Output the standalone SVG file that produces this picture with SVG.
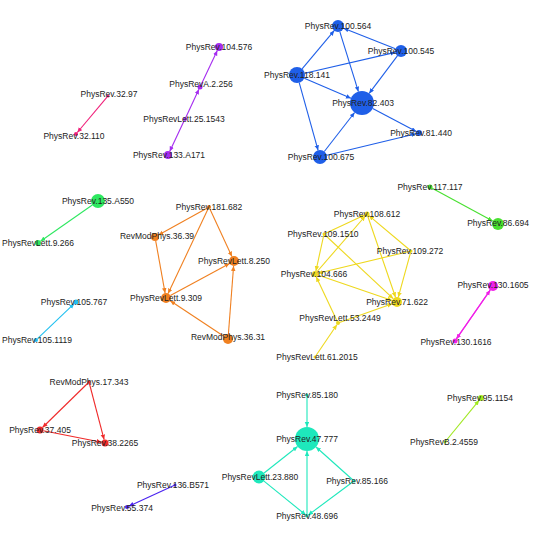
<svg xmlns="http://www.w3.org/2000/svg" width="538" height="538" viewBox="0 0 538 538">
<defs>
<style>
.e{fill:none;stroke-width:1.1}
text{font-family:"Liberation Sans",Arial,sans-serif;font-size:8.5px;fill:#222;text-anchor:middle;dominant-baseline:central}
.bl{stroke:#1f5fe8}.bln{fill:#1f5fe8}
.pu{stroke:#a52cf0}.pun{fill:#a52cf0}
.pk{stroke:#f0207a}.pkn{fill:#f0207a}
.gl{stroke:#2ee860}.gln{fill:#2ee860}
.cy{stroke:#20c0f0}.cyn{fill:#20c0f0}
.or{stroke:#f08020}.orn{fill:#f08020}
.ye{stroke:#eed81e}.yen{fill:#eed81e}
.gr{stroke:#48e030}.grn{fill:#48e030}
.mg{stroke:#f020e8}.mgn{fill:#f020e8}
.rd{stroke:#f02a2a}.rdn{fill:#f02a2a}
.bv{stroke:#4a22f0}.bvn{fill:#4a22f0}
.te{stroke:#1ee8bc}.ten{fill:#1ee8bc}
.li{stroke:#a0e820}.lin{fill:#a0e820}
</style>
<marker id="mbl" markerUnits="userSpaceOnUse" markerWidth="6" markerHeight="5" refX="5" refY="2.25" orient="auto"><path d="M0,0 L5,2.25 L0,4.5z" fill="#1f5fe8"/></marker>
<marker id="mpu" markerUnits="userSpaceOnUse" markerWidth="6" markerHeight="5" refX="5" refY="2.25" orient="auto"><path d="M0,0 L5,2.25 L0,4.5z" fill="#a52cf0"/></marker>
<marker id="mpk" markerUnits="userSpaceOnUse" markerWidth="6" markerHeight="5" refX="5" refY="2.25" orient="auto"><path d="M0,0 L5,2.25 L0,4.5z" fill="#f0207a"/></marker>
<marker id="mgl" markerUnits="userSpaceOnUse" markerWidth="6" markerHeight="5" refX="5" refY="2.25" orient="auto"><path d="M0,0 L5,2.25 L0,4.5z" fill="#2ee860"/></marker>
<marker id="mcy" markerUnits="userSpaceOnUse" markerWidth="6" markerHeight="5" refX="5" refY="2.25" orient="auto"><path d="M0,0 L5,2.25 L0,4.5z" fill="#20c0f0"/></marker>
<marker id="mor" markerUnits="userSpaceOnUse" markerWidth="6" markerHeight="5" refX="5" refY="2.25" orient="auto"><path d="M0,0 L5,2.25 L0,4.5z" fill="#f08020"/></marker>
<marker id="mye" markerUnits="userSpaceOnUse" markerWidth="6" markerHeight="5" refX="5" refY="2.25" orient="auto"><path d="M0,0 L5,2.25 L0,4.5z" fill="#eed81e"/></marker>
<marker id="mgr" markerUnits="userSpaceOnUse" markerWidth="6" markerHeight="5" refX="5" refY="2.25" orient="auto"><path d="M0,0 L5,2.25 L0,4.5z" fill="#48e030"/></marker>
<marker id="mmg" markerUnits="userSpaceOnUse" markerWidth="6" markerHeight="5" refX="5" refY="2.25" orient="auto"><path d="M0,0 L5,2.25 L0,4.5z" fill="#f020e8"/></marker>
<marker id="mrd" markerUnits="userSpaceOnUse" markerWidth="6" markerHeight="5" refX="5" refY="2.25" orient="auto"><path d="M0,0 L5,2.25 L0,4.5z" fill="#f02a2a"/></marker>
<marker id="mbv" markerUnits="userSpaceOnUse" markerWidth="6" markerHeight="5" refX="5" refY="2.25" orient="auto"><path d="M0,0 L5,2.25 L0,4.5z" fill="#4a22f0"/></marker>
<marker id="mte" markerUnits="userSpaceOnUse" markerWidth="6" markerHeight="5" refX="5" refY="2.25" orient="auto"><path d="M0,0 L5,2.25 L0,4.5z" fill="#1ee8bc"/></marker>
<marker id="mli" markerUnits="userSpaceOnUse" markerWidth="6" markerHeight="5" refX="5" refY="2.25" orient="auto"><path d="M0,0 L5,2.25 L0,4.5z" fill="#a0e820"/></marker>
</defs>
<rect width="538" height="538" fill="#fff"/>
<g id="connectors">
<!-- blue -->
<line class="e bl" marker-end="url(#mbl)" x1="302.1" y1="68.9" x2="334.2" y2="30.6"/>
<line class="e bl" marker-end="url(#mbl)" x1="395.4" y1="48.8" x2="343.6" y2="28.2"/>
<line class="e bl" marker-end="url(#mbl)" x1="304.8" y1="73.2" x2="395.2" y2="52.4"/>
<line class="e bl" marker-end="url(#mbl)" x1="339.8" y1="31.7" x2="358.4" y2="91.6"/>
<line class="e bl" marker-end="url(#mbl)" x1="397.4" y1="55.8" x2="369.2" y2="93.4"/>
<line class="e bl" marker-end="url(#mbl)" x1="304.3" y1="78.2" x2="351" y2="98.3"/>
<line class="e bl" marker-end="url(#mbl)" x1="299.2" y1="82.7" x2="318.1" y2="150.3"/>
<line class="e bl" marker-end="url(#mbl)" x1="324.3" y1="151.5" x2="354.6" y2="112.5"/>
<line class="e bl" marker-end="url(#mbl)" x1="372.7" y1="108.5" x2="416.3" y2="131.6"/>
<line class="e bl" marker-end="url(#mbl)" x1="326.8" y1="155.3" x2="416.1" y2="133.7"/>
<!-- purple -->
<line class="e pu" marker-end="url(#mpu)" x1="201.1" y1="84.7" x2="217.3" y2="50.6"/>
<line class="e pu" marker-end="url(#mpu)" x1="185.9" y1="117.2" x2="198.9" y2="89.3"/>
<line class="e pu" marker-end="url(#mpu)" x1="184.1" y1="120.8" x2="169.7" y2="151.4"/>
<!-- pink -->
<line class="e pk" marker-end="url(#mpk)" x1="107" y1="97.2" x2="77.3" y2="132.5"/>
<!-- green left -->
<line class="e gl" marker-end="url(#mgl)" x1="92.3" y1="205" x2="40.5" y2="241.3"/>
<!-- cyan -->
<line class="e cy" marker-end="url(#mcy)" x1="37.5" y1="338.6" x2="74.2" y2="303.7"/>
<!-- orange -->
<line class="e or" marker-end="url(#mor)" x1="207.3" y1="208" x2="158.5" y2="235.1"/>
<line class="e or" marker-end="url(#mor)" x1="209.8" y1="208.8" x2="231.9" y2="256.5"/>
<line class="e or" marker-end="url(#mor)" x1="208.1" y1="208.8" x2="168.1" y2="293.5"/>
<line class="e or" marker-end="url(#mor)" x1="155.7" y1="240.9" x2="165.1" y2="293.1"/>
<line class="e or" marker-end="url(#mor)" x1="170.4" y1="295.6" x2="229.6" y2="263.4"/>
<line class="e or" marker-end="url(#mor)" x1="223.8" y1="336.2" x2="170.2" y2="300.8"/>
<line class="e or" marker-end="url(#mor)" x1="228.4" y1="334" x2="233.6" y2="266"/>
<!-- yellow -->
<line class="e ye" marker-end="url(#mye)" x1="324" y1="234" x2="364.7" y2="215.1"/>
<line class="e ye" marker-end="url(#mye)" x1="315" y1="274" x2="365.3" y2="216"/>
<line class="e ye" marker-end="url(#mye)" x1="411" y1="251" x2="368.9" y2="215.6"/>
<line class="e ye" marker-end="url(#mye)" x1="367" y1="214" x2="395.5" y2="297.3"/>
<line class="e ye" marker-end="url(#mye)" x1="324" y1="234" x2="315.9" y2="271"/>
<line class="e ye" marker-end="url(#mye)" x1="324" y1="234" x2="393.2" y2="298.7"/>
<line class="e ye" marker-end="url(#mye)" x1="411" y1="251" x2="317.9" y2="273.3"/>
<line class="e ye" marker-end="url(#mye)" x1="411" y1="251" x2="398.3" y2="297.2"/>
<line class="e ye" marker-end="url(#mye)" x1="315" y1="274" x2="392.2" y2="300.4"/>
<line class="e ye" marker-end="url(#mye)" x1="338" y1="323" x2="316.2" y2="276.7"/>
<line class="e ye" marker-end="url(#mye)" x1="338" y1="323" x2="392.3" y2="303.7"/>
<line class="e ye" marker-end="url(#mye)" x1="315" y1="357" x2="336.9" y2="324.7"/>
<!-- green right -->
<line class="e gr" marker-end="url(#mgr)" x1="432.2" y1="188.2" x2="492.7" y2="221.1"/>
<!-- magenta -->
<line class="e mg" marker-end="url(#mmg)" x1="456.4" y1="338.9" x2="490.2" y2="290.1"/>
<line class="e mg" marker-end="url(#mmg)" x1="490.2" y1="290.1" x2="456.4" y2="338.9"/>
<!-- red -->
<line class="e rd" marker-end="url(#mrd)" x1="89" y1="382" x2="42.5" y2="427.5"/>
<line class="e rd" marker-end="url(#mrd)" x1="89" y1="382" x2="104.1" y2="439.6"/>
<line class="e rd" marker-end="url(#mrd)" x1="43.4" y1="430.7" x2="101.6" y2="442.3"/>
<!-- blue-violet -->
<line class="e bv" marker-end="url(#mbv)" x1="175" y1="485" x2="128.8" y2="506.2"/>
<!-- teal -->
<line class="e te" marker-end="url(#mte)" x1="307" y1="395" x2="307" y2="427"/>
<line class="e te" marker-end="url(#mte)" x1="264.1" y1="473" x2="297.6" y2="446.5"/>
<line class="e te" marker-end="url(#mte)" x1="307" y1="516" x2="307" y2="451"/>
<line class="e te" marker-end="url(#mte)" x1="354" y1="481" x2="316" y2="447"/>
<line class="e te" marker-end="url(#mte)" x1="264" y1="481.1" x2="305.8" y2="515"/>
<line class="e te" marker-end="url(#mte)" x1="354" y1="481" x2="308.2" y2="515.1"/>
<!-- lime -->
<line class="e li" marker-end="url(#mli)" x1="445" y1="442" x2="479.1" y2="400.3"/>
</g>
<g id="n-100-564"><circle class="bln" cx="338" cy="26" r="6"/><text x="338" y="26">PhysRev.100.564</text></g>
<g id="n-100-545"><circle class="bln" cx="401" cy="51" r="6"/><text x="401" y="51">PhysRev.100.545</text></g>
<g id="n-118-141"><circle class="bln" cx="297" cy="75" r="8"/><text x="297" y="75">PhysRev.118.141</text></g>
<g id="n-82-403"><circle class="bln" cx="362" cy="103" r="12"/><text x="363" y="103">PhysRev.82.403</text></g>
<g id="n-81-440"><circle class="bln" cx="419" cy="133" r="3"/><text x="421" y="133">PhysRev.81.440</text></g>
<g id="n-100-675"><circle class="bln" cx="320" cy="157" r="7"/><text x="321" y="157">PhysRev.100.675</text></g>

<g id="n-104-576"><circle class="pun" cx="219" cy="47" r="4"/><text x="219" y="47">PhysRev.104.576</text></g>
<g id="n-A-2-256"><circle class="pun" cx="200" cy="87" r="2.5"/><text x="201" y="84">PhysRevA.2.256</text></g>
<g id="n-25-1543"><circle class="pun" cx="185" cy="119" r="2"/><text x="184" y="119">PhysRevLett.25.1543</text></g>
<g id="n-133-A171"><circle class="pun" cx="168" cy="155" r="4"/><text x="169" y="155">PhysRev.133.A171</text></g>

<g id="n-32-97"><circle class="pkn" cx="108" cy="96" r="1.5"/><text x="109" y="94">PhysRev.32.97</text></g>
<g id="n-32-110"><circle class="pkn" cx="76" cy="134" r="2"/><text x="74" y="136">PhysRev.32.110</text></g>

<g id="n-135-A550"><circle class="gln" cx="98" cy="201" r="7"/><text x="98" y="201">PhysRev.135.A550</text></g>
<g id="n-9-266"><circle class="gln" cx="38" cy="243" r="3"/><text x="38" y="243">PhysRevLett.9.266</text></g>

<g id="n-105-767"><circle class="cyn" cx="76" cy="302" r="2.5"/><text x="74" y="302">PhysRev.105.767</text></g>
<g id="n-105-1119"><circle class="cyn" cx="36" cy="340" r="2"/><text x="37" y="340">PhysRev.105.1119</text></g>

<g id="n-181-682"><circle class="orn" cx="209" cy="207" r="2"/><text x="209" y="207">PhysRev.181.682</text></g>
<g id="n-36-39"><circle class="orn" cx="155" cy="237" r="4"/><text x="157" y="236">RevModPhys.36.39</text></g>
<g id="n-8-250"><circle class="orn" cx="234" cy="261" r="5"/><text x="234" y="261">PhysRevLett.8.250</text></g>
<g id="n-9-309"><circle class="orn" cx="166" cy="298" r="5"/><text x="166" y="298">PhysRevLett.9.309</text></g>
<g id="n-36-31"><circle class="orn" cx="228" cy="339" r="5"/><text x="228" y="337">RevModPhys.36.31</text></g>

<g id="n-108-612"><circle class="yen" cx="367" cy="214" r="2.5"/><text x="367" y="214">PhysRev.108.612</text></g>
<g id="n-109-1510"><circle class="yen" cx="324" cy="234" r="1.5"/><text x="323" y="234">PhysRev.109.1510</text></g>
<g id="n-109-272"><circle class="yen" cx="411" cy="251" r="1.5"/><text x="410" y="251">PhysRev.109.272</text></g>
<g id="n-104-666"><circle class="yen" cx="315" cy="274" r="3"/><text x="314" y="274">PhysRev.104.666</text></g>
<g id="n-71-622"><circle class="yen" cx="397" cy="302" r="5"/><text x="397" y="302">PhysRev.71.622</text></g>
<g id="n-53-2449"><circle class="yen" cx="338" cy="323" r="2"/><text x="340" y="318">PhysRevLett.53.2449</text></g>
<g id="n-61-2015"><circle class="yen" cx="315" cy="357" r="1.5"/><text x="317" y="357">PhysRevLett.61.2015</text></g>

<g id="n-117-117"><circle class="grn" cx="430" cy="187" r="2.5"/><text x="430" y="187">PhysRev.117.117</text></g>
<g id="n-86-694"><circle class="grn" cx="498" cy="224" r="6"/><text x="498" y="223">PhysRev.86.694</text></g>

<g id="n-130-1605"><circle class="mgn" cx="493" cy="286" r="5"/><text x="493" y="285">PhysRev.130.1605</text></g>
<g id="n-130-1616"><circle class="mgn" cx="455" cy="341" r="2.5"/><text x="456" y="342">PhysRev.130.1616</text></g>

<g id="n-17-343"><circle class="rdn" cx="89" cy="382" r="1.5"/><text x="89" y="382">RevModPhys.17.343</text></g>
<g id="n-37-405"><circle class="rdn" cx="40" cy="430" r="3.5"/><text x="40" y="430">PhysRev.37.405</text></g>
<g id="n-38-2265"><circle class="rdn" cx="105" cy="443" r="3.5"/><text x="105" y="443">PhysRev.38.2265</text></g>

<g id="n-136-B571"><circle class="bvn" cx="175" cy="485" r="1.5"/><text x="173" y="485">PhysRev.136.B571</text></g>
<g id="n-55-374"><circle class="bvn" cx="127" cy="507" r="2"/><text x="122" y="508">PhysRev.55.374</text></g>

<g id="n-85-180"><circle class="ten" cx="307" cy="395" r="1.5"/><text x="307" y="395">PhysRev.85.180</text></g>
<g id="n-47-777"><circle class="ten" cx="307" cy="439" r="12"/><text x="307" y="439">PhysRev.47.777</text></g>
<g id="n-23-880"><circle class="ten" cx="259" cy="477" r="6.5"/><text x="260" y="477">PhysRevLett.23.880</text></g>
<g id="n-85-166"><circle class="ten" cx="354" cy="481" r="1.5"/><text x="357" y="481">PhysRev.85.166</text></g>
<g id="n-48-696"><circle class="ten" cx="307" cy="516" r="1.5"/><text x="307" y="516">PhysRev.48.696</text></g>

<g id="n-95-1154"><circle class="lin" cx="481" cy="398" r="3"/><text x="480" y="398">PhysRev.95.1154</text></g>
<g id="n-B-2-4559"><circle class="lin" cx="445" cy="442" r="1.5"/><text x="444" y="442">PhysRevB.2.4559</text></g>
</svg>
